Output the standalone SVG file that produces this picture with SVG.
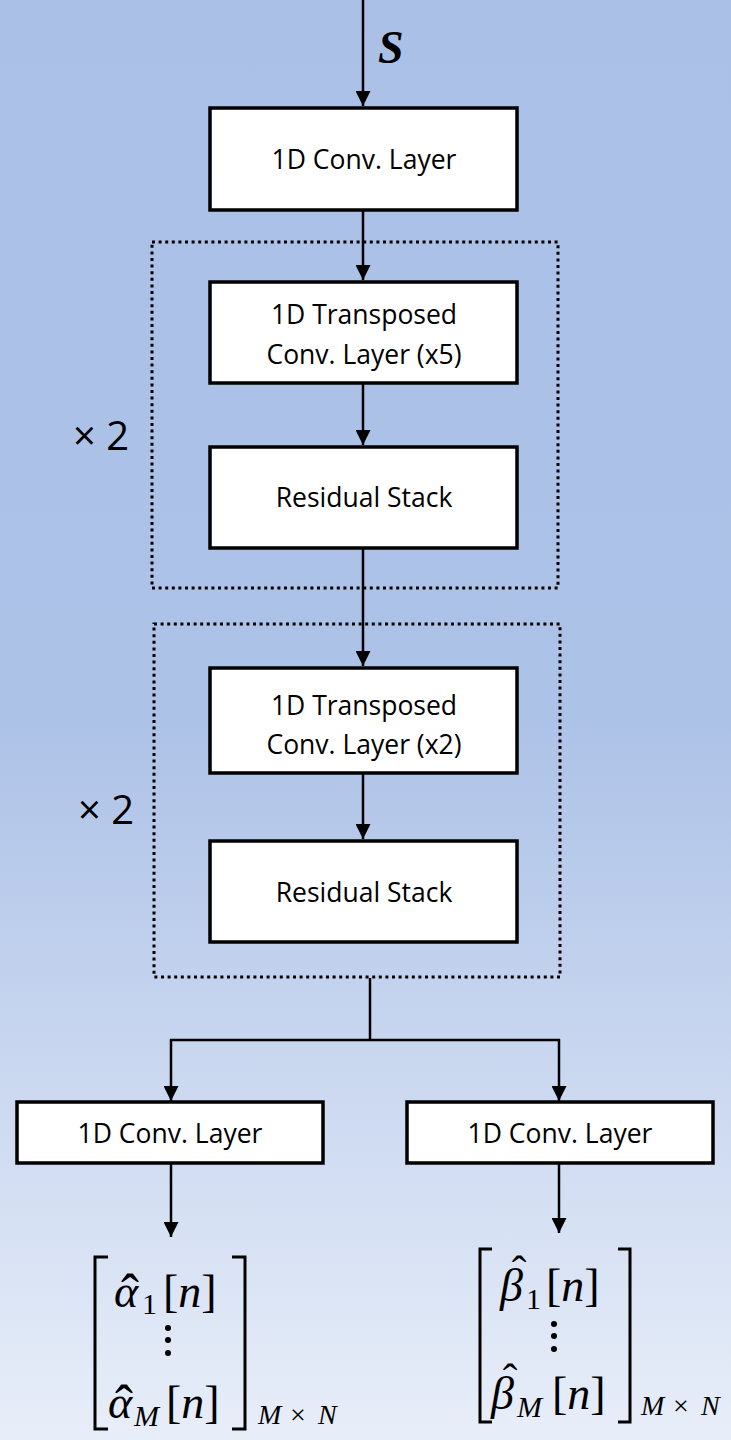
<svg xmlns="http://www.w3.org/2000/svg" width="731" height="1440" viewBox="0 0 731 1440">
  <defs>
    <linearGradient id="bg" x1="0" y1="0" x2="0" y2="1">
      <stop offset="0" stop-color="#ABC0E6"/>
      <stop offset="0.5" stop-color="#ADC2E7"/>
      <stop offset="1" stop-color="#E8EEF9"/>
    </linearGradient>
    <marker id="arrow" viewBox="0 0 10 10" refX="10" refY="5" markerWidth="6" markerHeight="6" markerUnits="strokeWidth" orient="auto">
      <path d="M0,0 L10,5 L0,10 Z" fill="#000"/>
    </marker>
    <style>
      .box { fill: #fff; stroke: #000; stroke-width: 3.5; }
      .group { fill: none; stroke: #000; stroke-width: 3; stroke-dasharray: 3 3.6; }
      .lbl { font-family: "Open Sans", "Liberation Sans", sans-serif; font-size: 26.5px; fill: #000; text-anchor: middle; }
      .times { font-family: "Open Sans", "Liberation Sans", sans-serif; font-size: 40px; fill: #000; }
      .edge { fill: none; stroke: #000; stroke-width: 2.5; }
      .eq { font-family: "Liberation Serif", "DejaVu Serif", serif; fill: #000; font-size: 46px; }
      .eq.dim { font-size: 28px; }
      .it { font-style: italic; }
      .brk { fill: none; stroke: #000; stroke-width: 3; }
    </style>
  </defs>

  <rect x="0" y="0" width="731" height="1440" fill="url(#bg)"/>

  <!-- repeat groups -->
  <g id="repeat-x5">
    <rect class="group" x="152" y="242" width="406" height="346"/>
    <text class="times" x="73" y="450">× 2</text>
  </g>
  <g id="repeat-x2">
    <rect class="group" x="154" y="624" width="406" height="353"/>
    <text class="times" x="78" y="824">× 2</text>
  </g>

  <!-- connectors -->
  <g id="connectors">
    <line class="edge" x1="363" y1="0" x2="363" y2="106" marker-end="url(#arrow)"/>
    <line class="edge" x1="363" y1="211" x2="363" y2="280" marker-end="url(#arrow)"/>
    <line class="edge" x1="363" y1="384" x2="363" y2="445" marker-end="url(#arrow)"/>
    <line class="edge" x1="363" y1="549" x2="363" y2="666" marker-end="url(#arrow)"/>
    <line class="edge" x1="363" y1="774" x2="363" y2="839" marker-end="url(#arrow)"/>
    <line class="edge" x1="370" y1="978" x2="370" y2="1040"/>
    <line class="edge" x1="170" y1="1040" x2="560" y2="1040"/>
    <line class="edge" x1="171" y1="1039" x2="171" y2="1101" marker-end="url(#arrow)"/>
    <line class="edge" x1="559" y1="1039" x2="559" y2="1101" marker-end="url(#arrow)"/>
    <line class="edge" x1="171" y1="1164" x2="171" y2="1237" marker-end="url(#arrow)"/>
    <line class="edge" x1="559" y1="1164" x2="559" y2="1233" marker-end="url(#arrow)"/>
    <text class="eq it" x="378" y="63" font-weight="bold">S</text>
  </g>

  <!-- layer nodes -->
  <g id="conv-in">
    <rect class="box" x="210" y="108" width="307" height="102"/>
    <text class="lbl" x="364" y="169">1D Conv. Layer</text>
  </g>
  <g id="tconv-x5">
    <rect class="box" x="210" y="282" width="307" height="101"/>
    <text class="lbl" x="364" y="324">1D Transposed</text>
    <text class="lbl" x="364" y="364">Conv. Layer (x5)</text>
  </g>
  <g id="res-1">
    <rect class="box" x="210" y="447" width="307" height="101"/>
    <text class="lbl" x="364" y="507">Residual Stack</text>
  </g>
  <g id="tconv-x2">
    <rect class="box" x="210" y="668" width="307" height="105"/>
    <text class="lbl" x="364" y="715">1D Transposed</text>
    <text class="lbl" x="364" y="754">Conv. Layer (x2)</text>
  </g>
  <g id="res-2">
    <rect class="box" x="210" y="841" width="307" height="101"/>
    <text class="lbl" x="364" y="902">Residual Stack</text>
  </g>
  <g id="conv-alpha">
    <rect class="box" x="17" y="1102" width="306" height="61"/>
    <text class="lbl" x="170" y="1143">1D Conv. Layer</text>
  </g>
  <g id="conv-beta">
    <rect class="box" x="407" y="1102" width="306" height="61"/>
    <text class="lbl" x="560" y="1143">1D Conv. Layer</text>
  </g>

  <!-- output matrices -->
  <g id="alpha-out">
    <path class="brk" d="M108,1257 H95 V1429 H108"/>
    <path class="brk" d="M232,1257 H245 V1429 H232"/>
    <text class="eq"><tspan class="it" x="114" y="1307">α</tspan><tspan x="130" y="1312" font-size="54" text-anchor="middle">ˆ</tspan><tspan x="142" y="1314" font-size="30">1</tspan><tspan x="163" y="1307">[</tspan><tspan class="it">n</tspan><tspan>]</tspan></text>
    <circle cx="168" cy="1328" r="3"/>
    <circle cx="168" cy="1340" r="3"/>
    <circle cx="168" cy="1353" r="3"/>
    <text class="eq"><tspan class="it" x="108" y="1418">α</tspan><tspan x="124" y="1423" font-size="54" text-anchor="middle">ˆ</tspan><tspan class="it" x="134" y="1426" font-size="30">M</tspan><tspan x="166" y="1418">[</tspan><tspan class="it">n</tspan><tspan>]</tspan></text>
    <text class="eq dim"><tspan class="it" x="258" y="1424">M</tspan><tspan x="290" y="1424">×</tspan><tspan class="it" x="318" y="1424">N</tspan></text>
  </g>
  <g id="beta-out">
    <path class="brk" d="M492,1249 H480 V1422 H492"/>
    <path class="brk" d="M618,1249 H630 V1422 H618"/>
    <text class="eq"><tspan class="it" x="500" y="1301">β</tspan><tspan x="519" y="1286" font-size="44" text-anchor="middle">ˆ</tspan><tspan x="526" y="1309" font-size="30">1</tspan><tspan x="546" y="1301">[</tspan><tspan class="it">n</tspan><tspan>]</tspan></text>
    <circle cx="554" cy="1324" r="3"/>
    <circle cx="554" cy="1336" r="3"/>
    <circle cx="554" cy="1349" r="3"/>
    <text class="eq"><tspan class="it" x="491" y="1409">β</tspan><tspan x="510" y="1394" font-size="44" text-anchor="middle">ˆ</tspan><tspan class="it" x="517" y="1417" font-size="30">M</tspan><tspan x="552" y="1409">[</tspan><tspan class="it">n</tspan><tspan>]</tspan></text>
    <text class="eq dim"><tspan class="it" x="641" y="1415">M</tspan><tspan x="673" y="1415">×</tspan><tspan class="it" x="701" y="1415">N</tspan></text>
  </g>
</svg>
